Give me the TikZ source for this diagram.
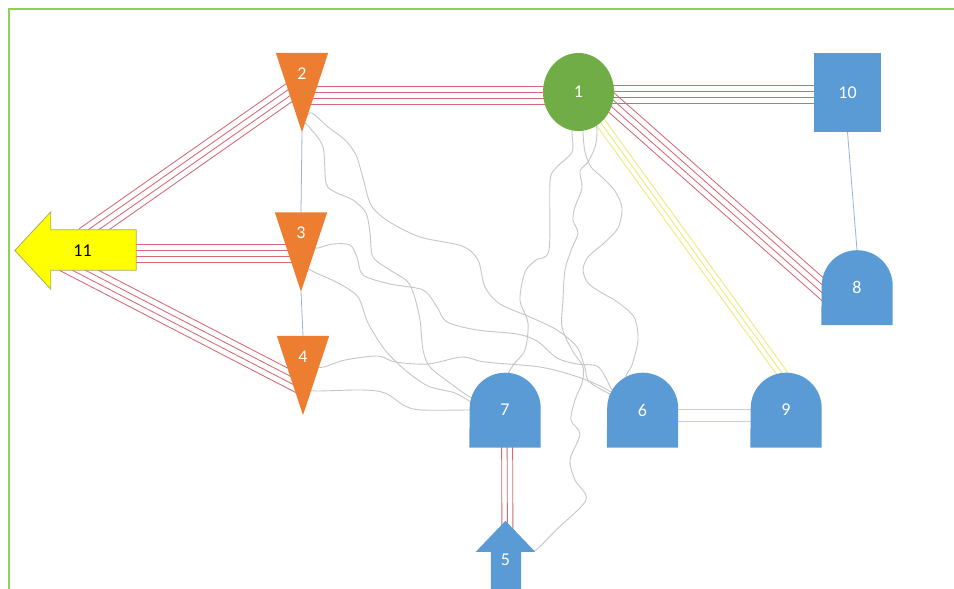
\documentclass[tikz,border=0pt]{standalone}
\usepackage{fontspec}
\setmainfont{Carlito}
\usetikzlibrary{calc,shapes.geometric}
\pgfdeclarelayer{wires}
\pgfdeclarelayer{shapes}
\pgfsetlayers{wires,shapes,main}

\definecolor{frameGreen}{RGB}{146,208,80}
\definecolor{triOrange}{RGB}{237,125,49}
\definecolor{hubGreen}{RGB}{112,173,71}
\definecolor{boxBlue}{RGB}{91,155,213}
\definecolor{arrowYellow}{RGB}{255,255,0}
\definecolor{arrowEdge}{RGB}{165,175,95}
\definecolor{trunkRed}{RGB}{212,104,116}
\definecolor{paleYellow}{RGB}{238,234,120}
\definecolor{paleGreen}{RGB}{205,220,140}
\definecolor{linkBlue}{RGB}{150,180,215}
\definecolor{wireGray}{RGB}{198,198,198}

\tikzset{
  lbl/.style={text=white, font=\fontsize{18}{18}\selectfont, inner sep=0pt},
  base/.style={rectangle, inner sep=0pt, lbl},
  tri/.style={base, minimum width=52pt, minimum height=79pt,
    label={[lbl, yshift=19pt]center:#1}},
  arch/.style={base, minimum width=71pt, minimum height=75pt},
  trunk/.style={draw=trunkRed, line width=0.85pt},
  ytrunk/.style={draw=paleYellow, line width=0.9pt},
  gtrunk/.style={draw=paleGreen, line width=0.9pt},
  link/.style={draw=linkBlue, line width=0.8pt},
  wire/.style={draw=wireGray, line width=0.9pt},
  frame/.style={draw=frameGreen, line width=2pt},
}

% parallel strands between two points, offsets measured across the line
\newcommand\strands[4]{%
  \foreach \o in {#4}
    \draw[#1] ($(#2)!\o pt!90:(#3)$) -- ($(#3)!\o pt!-90:(#2)$);}

% round-topped box filled under its node
\newcommand\archfill[1]{%
  \fill[boxBlue] (#1.south west) -- (#1.south east)
    -- ([yshift=39.5pt]#1.south east)
    arc[start angle=0, end angle=180, radius=35.5pt] -- cycle;}

% downward triangle filled under its node
\newcommand\trifill[1]{%
  \fill[triOrange] (#1.north west) -- (#1.north east) -- (#1.south) -- cycle;}

\begin{document}
\begin{tikzpicture}[x=1pt,y=-1pt]
\useasboundingbox (0,0) rectangle (954,589);

% ---- nodes ----
\node[ellipse, fill=hubGreen, minimum width=71pt, minimum height=78pt,
      inner sep=0pt, lbl] (n1) at (578.5,92) {1};
\node[tri=2] (n2) at (302,92.5) {};
\node[tri=3] (n3) at (301,252) {};
\node[tri=4] (n4) at (303,375.5) {};
\node[base, minimum width=59pt, minimum height=68pt,
      label={[lbl, yshift=-5pt]center:5}] (n5) at (505.5,555) {};
\node[arch] (n6) at (642.5,410) {6};
\node[arch] (n7) at (505,410) {7};
\node[arch] (n8) at (857,287.5) {8};
\node[arch] (n9) at (786,410) {9};
\node[rectangle, fill=boxBlue, minimum width=67pt, minimum height=79pt,
      inner sep=0pt, lbl] (n10) at (847.5,92.5) {10};
\node[base, minimum width=121pt, minimum height=77pt,
      label={[lbl, text=black, xshift=7pt]center:11}] (n11) at (75.5,250.5) {};

% ---- shapes ----
\begin{pgfonlayer}{shapes}
  \trifill{n2}
  \trifill{n3}
  \trifill{n4}
  \archfill{n6}
  \archfill{n7}
  \archfill{n8}
  \archfill{n9}
  \filldraw[fill=arrowYellow, draw=arrowEdge, line width=0.8pt]
    (n11.west) -- ($(n11.north west)+(36,0)$) -- ($(n11.north west)+(36,18)$)
    -- ($(n11.north east)+(0,18)$) -- ($(n11.south east)+(0,-19)$)
    -- ($(n11.south west)+(36,-19)$) -- ($(n11.south west)+(36,0)$) -- cycle;
  \fill[boxBlue]
    (n5.north) -- ($(n5.north east)+(0,31)$) -- ($(n5.north east)+(-14,31)$)
    -- ($(n5.south east)+(-14,0)$) -- ($(n5.south west)+(15,0)$)
    -- ($(n5.north west)+(15,31)$) -- ($(n5.north west)+(0,31)$) -- cycle;
\end{pgfonlayer}

% ---- connectors ----
\begin{pgfonlayer}{wires}
  \fill[white] (0,0) rectangle (954,589);

  % trunk anchor points
  \coordinate (t21a) at ($(n2)+(0,2.5)$);
  \coordinate (t21b) at ($(n1)+(0,3)$);
  \coordinate (t110a) at ($(n1)+(0,2)$);
  \coordinate (t110b) at ($(n10)+(0,1.5)$);
  \coordinate (t18a) at ($(n1)+(21,0)$);
  \coordinate (t18b) at ($(n8)+(-25,10)$);
  \coordinate (t112a) at ($(n11)+(9,-14.5)$);
  \coordinate (t112b) at ($(n2)+(-2,-7.5)$);
  \coordinate (t113a) at ($(n11)+(0,2.5)$);
  \coordinate (t113b) at ($(n3)+(0,1)$);
  \coordinate (t114a) at ($(n11)+(-15.5,10)$);
  \coordinate (t114b) at ($(n4)+(0.7,11)$);
  \coordinate (t75a) at ($(n7)+(2,0)$);
  \coordinate (t75b) at ($(n5)+(2,0)$);
  \coordinate (t19b) at ($(n9)+(1,-30)$);
  \coordinate (t69a) at ($(n6)+(0,5)$);
  \coordinate (t69b) at ($(n9)+(0,5)$);

  \strands{trunk}{t21a}{t21b}{-9,-3,3,9}
  \strands{trunk}{t110a}{t110b}{-9,-3,3,9}
  \strands{trunk}{t18a}{t18b}{-9,-3,3,9}
  \strands{trunk}{t112a}{t112b}{-9,-3,3,9}
  \strands{trunk}{t113a}{t113b}{-9,-3,3,9}
  \strands{trunk}{t114a}{t114b}{-9,-3,3,9}
  \strands{trunk}{t75a}{t75b}{-5.5,0,5.5}
  \strands{ytrunk}{n1}{t19b}{-5,0,5}
  \strands{gtrunk}{t69a}{t69b}{-6,6}

  % single links
  \draw[link] (n2.south) -- (n3.north);
  \draw[link] (n3.south) -- (n4.north);
  \draw[link] (n10.south) -- (n8.north);

  % loose cabling
  \draw[wire] plot[smooth] coordinates {($(n2.south)+(4,-16)$) (312,113) (328,127)
    (345,140) (356,155) (363,178) (371,205) (388,221) (420,237) (462,246)
    (478,260) (485,287) (500,304) (530,317) (557,330) (577,347) (585,368)
    (592,384) (n6.center)};
  \draw[wire] plot[smooth] coordinates {($(n2.south)+(2,-10)$) (310,128) (323,147)
    (326,183) (335,192) (353,200) (366,213) (370,233) (373,257) (390,270)
    (407,281) (414,295) (420,320) (423,350) (430,367) (450,383) (472,398)
    (n7.center)};
  \draw[wire] plot[smooth] coordinates {($(n3)+(12,-4)$) (318,248) (333,244)
    (350,245) (357,257) (363,275) (390,284) (423,290) (437,307) (447,322)
    (477,330) (517,334) (537,341) (557,358) (577,364) (597,366) (606,378)
    (614,392) (n6.center)};
  \draw[wire] plot[smooth] coordinates {($(n3)+(6,16)$) (314,272) (338,283)
    (358,297) (368,323) (385,350) (405,370) (428,386) (455,393) (474,403)
    (n7.center)};
  \draw[wire] plot[smooth] coordinates {($(n4)+(13,-8.5)$) (324,367) (345,360)
    (378,356) (395,362) (428,364) (462,357) (485,362) (540,367) (575,376)
    (598,385) (613,393) (n6.center)};
  \draw[wire] plot[smooth] coordinates {($(n4)+(6,14.5)$) (318,391) (362,390)
    (385,393) (405,406) (422,410) (471,410) (n7.center)};
  \draw[wire] plot[smooth] coordinates {($(n1)+(-6,30)$) (572,133) (572,152)
    (556,168) (550,182) (549,250) (536,260) (525,272) (520,300) (528,323)
    (525,350) (514,364) (507,378) (n7.center)};
  \draw[wire] plot[smooth] coordinates {($(n1)+(4.5,30)$) (583,133) (585,152)
    (591,167) (603,178) (615,191) (622,208) (618,228) (604,243) (588,257)
    (583,270) (588,283) (602,293) (616,301) (634,317) (638,340) (632,365)
    (626,380) (n6.center)};
  \draw[wire] plot[smooth] coordinates {($(n1)+(17.5,28)$) (597,133) (595,147)
    (588,162) (580,171) (582,188) (575,207) (573,220) (578,233) (572,248)
    (565,270) (563,300) (562,327) (572,350) (583,367) (582,383) (575,400)
    (571,420) (580,434) (570,460) (575,480) (586,500) (556,530) (536,550)
    ($(n5)+(20,-5)$)};
\end{pgfonlayer}

% ---- frame ----
\draw[frame] (9,589) -- (9,9) -- (954,9);
\end{tikzpicture}
\end{document}
